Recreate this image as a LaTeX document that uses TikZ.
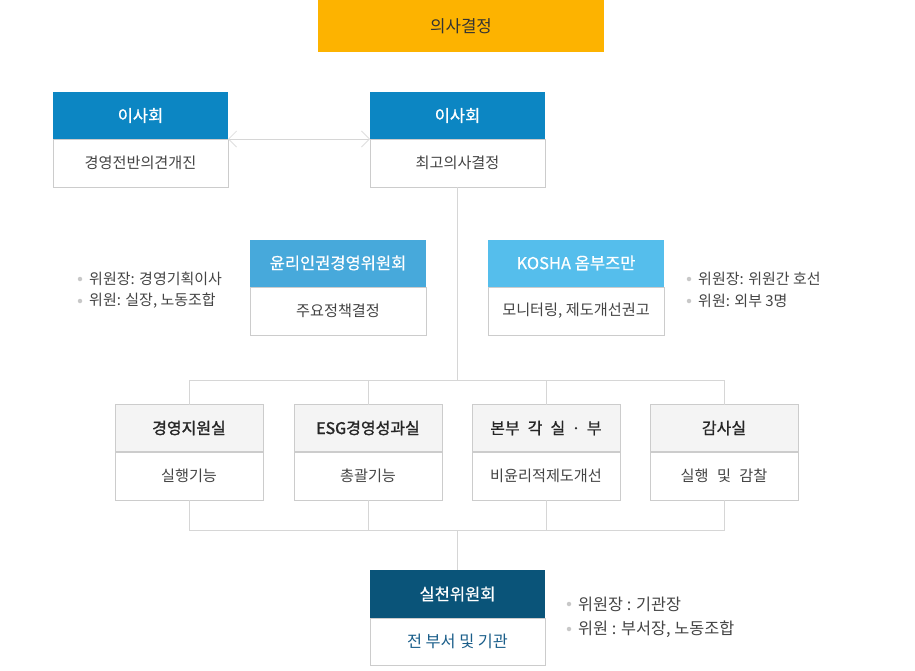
\documentclass[tikz,border=0pt]{standalone}
\usepackage{fontspec}
\setmainfont{Noto Sans CJK KR}
\newfontfamily\medfont[FakeBold=0.6]{Noto Sans CJK KR}
\newfontfamily\semifont[FakeBold=1.4]{Noto Sans CJK KR}
\usetikzlibrary{arrows.meta}
\definecolor{orangeTop}{HTML}{FDB300}
\definecolor{blueA}{HTML}{0C86C3}
\definecolor{blueB}{HTML}{47A9DB}
\definecolor{blueC}{HTML}{55BEEC}
\definecolor{navy}{HTML}{0A5479}
\definecolor{grayHdr}{HTML}{F4F4F4}
\definecolor{border}{HTML}{CCCCCC}
\definecolor{conn}{HTML}{D6D6D6}
\definecolor{txt}{HTML}{444444}
\definecolor{bulletc}{HTML}{C8C8C8}
\definecolor{bluetxt}{HTML}{1A5E8A}
\tikzset{
  cell/.style={rectangle, inner sep=0pt, outer sep=0pt, minimum width=#1},
  hdr/.style={cell=#1, minimum height=47pt, font=\medfont\fontsize{16.5}{19}\selectfont},
  bdy/.style={cell=#1, minimum height=48pt, draw=border, line width=0.8pt, fill=white, text=txt, font=\fontsize{15.2}{18}\selectfont},
  grayh/.style={hdr=148pt, draw=border, line width=0.8pt, fill=grayHdr, text=black!85, font=\medfont\fontsize{16}{19}\selectfont},
  conline/.style={draw=conn, line width=1pt},
  bul/.style={circle, fill=bulletc, inner sep=0pt, minimum size=4.5pt},
  btxt/.style={anchor=west, inner sep=0pt, text=txt, font=\fontsize{15}{18}\selectfont},
}
\begin{document}
\begin{tikzpicture}[x=1pt,y=-1pt]
\useasboundingbox (0,0) rectangle (915,670);
% top
\node[cell=286pt, minimum height=52pt, fill=orangeTop, text=black!80, font=\fontsize{16.8}{19}\selectfont] (top) at (461,26) {의사결정};
% left board
\node[bdy=175pt] (lb) at (140.5,163) {경영전반의견개진};
\node[hdr=175pt, fill=blueA, text=white] (lh) at (140.5,115.5) {이사회};
% right board
\node[bdy=175pt] (rb) at (457.5,163) {최고의사결정};
\node[hdr=175pt, fill=blueA, text=white] (rh) at (457.5,115.5) {이사회};
% double arrow
\draw[draw=conn, line width=0.8pt, {Straight Barb[length=8pt,width=16pt,color=conn!80]}-{Straight Barb[length=8pt,width=16pt,color=conn!80]}] (lh.south east) -- (rh.south west);
% ethics committee
\node[bdy=176pt] (eb) at (338,311) {주요정책결정};
\node[hdr=176pt, fill=blueB, text=white] (eh) at (338,263) {윤리인권경영위원회};
% KOSHA
\node[bdy=176pt] (kb) at (576,311) {모니터링, 제도개선권고};
\node[hdr=176pt, fill=blueC, text=white] (kh) at (576,263) {KOSHA 옴부즈만};
% bullets left
\node[bul] (bl1) at (80,279) {};
\node[btxt] (tl1) at (89,279) {위원장: 경영기획이사};
\node[bul] (bl2) at (80,301) {};
\node[btxt] (tl2) at (89,301) {위원: 실장, 노동조합};
% bullets right
\node[bul] (br1) at (689,279) {};
\node[btxt] (tr1) at (698,279) {위원장: 위원간 호선};
\node[bul] (br2) at (689,301) {};
\node[btxt] (tr2) at (698,301) {위원: 외부 3명};
% row 3
\node[grayh, font=\semifont\fontsize{16}{19}\selectfont] (h1) at (189,428) {경영지원실};
\node[bdy=148pt] (b1) at (189,476) {실행기능};
\node[grayh, font=\semifont\fontsize{16}{19}\selectfont] (h2) at (368,428) {ESG경영성과실};
\node[bdy=148pt] (b2) at (368,476) {총괄기능};
\node[grayh] (h3) at (546,428) {본부\hspace{0.5em}각\hspace{0.5em}실\hspace{0.4em}·\hspace{0.4em}부};
\node[bdy=148pt] (b3) at (546,476) {비윤리적제도개선};
\node[grayh] (h4) at (724,428) {감사실};
\node[bdy=148pt] (b4) at (724,476) {실행\hspace{0.55em}및\hspace{0.55em}감찰};
% bottom
\node[bdy=175pt, minimum height=47pt, text=bluetxt, font=\fontsize{16.3}{19}\selectfont] (sb) at (457.5,641.5) {전 부서 및 기관};
\node[hdr=175pt, minimum height=48pt, fill=navy, text=white] (sh) at (457.5,594) {실천위원회};
\node[bul] (bb1) at (569,604) {};
\node[btxt, font=\fontsize{16.3}{19}\selectfont] (tb1) at (578,604) {위원장 : 기관장};
\node[bul] (bb2) at (569,629) {};
\node[btxt, font=\fontsize{16.3}{19}\selectfont] (tb2) at (578,629) {위원 : 부서장, 노동조합};
% connectors
\coordinate (busT) at (457.5,380);
\coordinate (busB) at (457.5,530);
\draw[conline] (rb.south) -- (busT);
\draw[conline] (h1.north) |- (busT);
\draw[conline] (h4.north) |- (busT);
\draw[conline] (h2.north) -- (h2.north |- busT);
\draw[conline] (h3.north) -- (h3.north |- busT);
\draw[conline] (b1.south) |- (busB);
\draw[conline] (b4.south) |- (busB);
\draw[conline] (b2.south) -- (b2.south |- busB);
\draw[conline] (b3.south) -- (b3.south |- busB);
\draw[conline] (busB) -- (sh.north);
\end{tikzpicture}
\end{document}
